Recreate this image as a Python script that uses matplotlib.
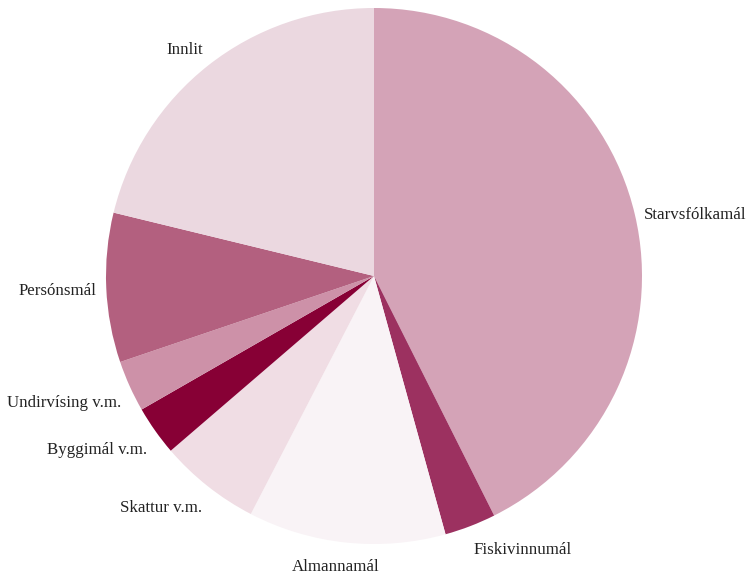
import matplotlib
matplotlib.use("Agg")
import matplotlib.pyplot as plt
import numpy as np

labels = ["Starvsfólkamál", "Fiskivinnumál", "Almannamál", "Skattur v.m.",
          "Byggimál v.m.", "Undirvísing v.m.", "Persónsmál", "Innlit"]
values = [42.6, 3.1, 11.9, 6.1, 3.0, 3.1, 9.0, 21.2]
colors = ["#d4a3b7", "#9c3160", "#f9f3f6", "#f0dde4",
          "#870035", "#cd91a8", "#b3607f", "#ebd8e0"]

W, H = 749, 582
fig = plt.figure(figsize=(W / 100, H / 100), dpi=100)
cx, cy, r = 374, 276, 268
ax = fig.add_axes([(cx - r) / W, (H - cy - r) / H, 2 * r / W, 2 * r / H])
wedges, _ = ax.pie(values, colors=colors, startangle=90, counterclock=False)

for w, lab in zip(wedges, labels):
    ang = np.deg2rad((w.theta1 + w.theta2) / 2)
    x, y = np.cos(ang), np.sin(ang)
    d = 1.035
    if abs(x) < 0.15:
        ha = "center"
        x -= 0.035
    else:
        ha = "left" if x > 0 else "right"
    ty = d * y
    if y < -0.3:
        va = "top"
        ty -= 0.015 + 0.012 * (-y)
    elif y > 0.3:
        va = "bottom"
    else:
        va = "center"
        ty -= 0.01
    ax.text(d * x, ty, lab, ha=ha, va=va, family="Liberation Serif",
            fontsize=12.2, color="#222222")

ax.set_xlim(-1, 1)
ax.set_ylim(-1, 1)
ax.set_aspect("equal")
ax.axis("off")
fig.savefig("out.png", dpi=100)
